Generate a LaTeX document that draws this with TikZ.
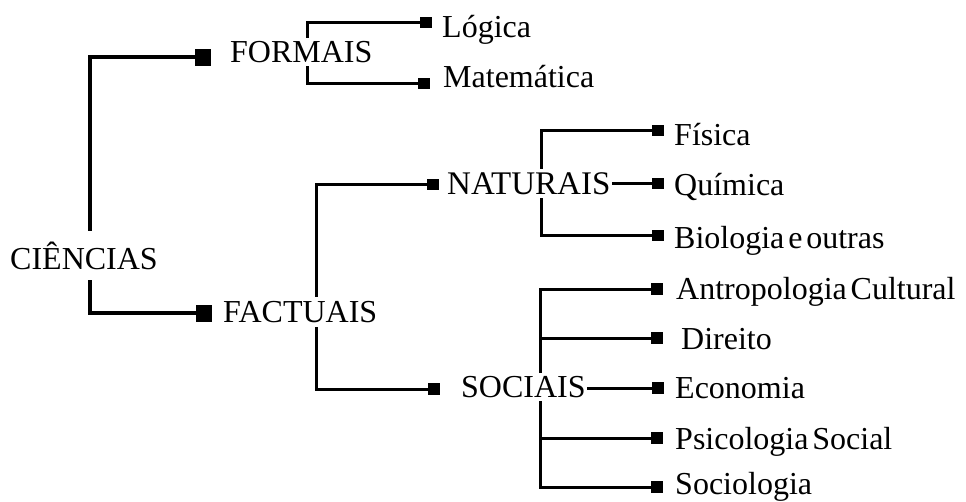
\documentclass[tikz,border=0pt]{standalone}
\usepackage{fontspec}
\setmainfont{Liberation Serif}
\newcommand{\myfontA}{\fontsize{32}{38}\selectfont\spaceskip=0.12em\relax}
\newcommand{\myfontC}{\fontsize{33}{40}\selectfont}
\begin{document}
\begin{tikzpicture}[x=1pt,y=-1pt,
  ln/.style={line width=3pt},
  bigsq/.style={fill=black,inner sep=0pt,minimum width=16pt,minimum height=17pt},
  smsq/.style={fill=black,inner sep=0pt,minimum width=12pt,minimum height=11pt},
  lbl/.style={anchor=base west,inner xsep=1pt,inner ysep=3pt,font=\myfontA}]
\useasboundingbox (0,0) rectangle (966,501);

% junction x positions
\coordinate (jC) at (90,0);
\coordinate (jF) at (307,0);
\coordinate (jFa) at (316,0);
\coordinate (jN) at (541,0);
\coordinate (jS) at (540,0);

% nodes
\node[lbl,inner ysep=10pt] (cien) at (9,269) {CIÊNCIAS};
\node[bigsq] (sqF) at (203,57) {};
\node[lbl] (formais) at (229,62) {FORMAIS};
\node[bigsq] (sqA) at (204,313) {};
\node[lbl,inner ysep=4pt] (factuais) at (222,322) {FACTUAIS};

\node[smsq] (sqL) at (426,22) {};
\node[lbl] (logica) at (441,37) {Lógica};
\node[smsq] (sqM) at (424,83) {};
\node[lbl] (mat) at (442,87) {Matemática};

\node[smsq] (sqN) at (433,184) {};
\node[lbl,font=\myfontC] (naturais) at (446,194) {NATURAIS};
\node[smsq] (sqFi) at (658,130) {};
\node[lbl] (fisica) at (673,145) {Física};
\node[smsq] (sqQ) at (658,183) {};
\node[lbl] (quimica) at (673,195) {Química};
\node[smsq] (sqB) at (658,235) {};
\node[lbl] (bio) at (673,248) {Biologia e outras};

\node[smsq,minimum height=12pt] (sqS) at (434,389) {};
\node[lbl] (sociais) at (460,397) {SOCIAIS};
\node[smsq,minimum height=12pt] (sqAn) at (657,289) {};
\node[lbl] (antro) at (675,299) {Antropologia Cultural};
\node[smsq,minimum height=12pt] (sqD) at (657,338) {};
\node[lbl] (dir) at (680,349) {Direito};
\node[smsq,minimum height=12pt] (sqE) at (658,388) {};
\node[lbl] (eco) at (674,398) {Economia};
\node[smsq,minimum height=12pt] (sqP) at (657,438) {};
\node[lbl] (psi) at (674,449) {Psicologia Social};
\node[smsq,minimum height=12pt] (sqSo) at (657,487) {};
\node[lbl] (soc) at (674,494) {Sociologia};

% connectors
\draw[ln,line width=3.3pt] (sqF) -| (cien.north -| jC);
\draw[ln,line width=3.3pt] (sqA) -| (cien.south -| jC);
\draw[ln] (sqL) -| (formais.north -| jF);
\draw[ln] (sqM) -| (formais.south -| jF);
\draw[ln] (sqN) -| (factuais.north -| jFa);
\draw[ln] (sqS) -| (factuais.south -| jFa);
\draw[ln] (sqFi) -| (naturais.north -| jN);
\draw[ln] (sqB) -| (naturais.south -| jN);
\draw[ln] (sqQ) -- (sqQ -| naturais.east);
\draw[ln] (sqAn) -| (sociais.north -| jS);
\draw[ln] (sqD) -| (sociais.north -| jS);
\draw[ln] (sqP) -| (sociais.south -| jS);
\draw[ln] (sqSo) -| (sociais.south -| jS);
\draw[ln] (sqE) -- (sqE -| sociais.east);
\end{tikzpicture}
\end{document}
